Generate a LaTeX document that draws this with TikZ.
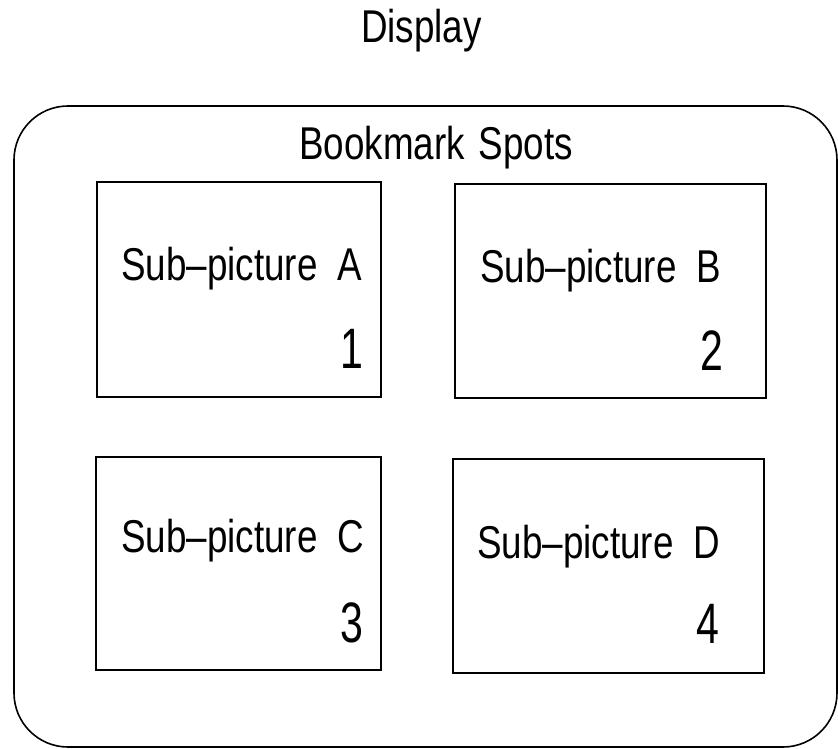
\documentclass[tikz,border=0pt]{standalone}
\usepackage{fontspec}
\setmainfont[FakeStretch=0.8]{Liberation Sans}
\newfontfamily\digitfont[FakeStretch=0.72]{Liberation Sans}
\newcommand{\labelgap}{\hspace{20pt}}
\begin{document}
\begin{tikzpicture}[x=1pt,y=-1pt,
  frame/.style={draw, line width=1.6pt, rounded corners=54pt, inner sep=0pt},
  panel/.style={draw, line width=1.5pt, inner sep=0pt},
  caption/.style={anchor=base west, inner sep=0pt, font=\fontsize{46}{50}\selectfont},
  number/.style={anchor=base east, inner sep=0pt, font=\digitfont\fontsize{57}{60}\selectfont}]
\useasboundingbox (0,0) rectangle (838,749);

% title above the display frame
\node[caption] (title) at (361,43) {Display};

% the display frame and its heading
\node[frame, minimum width=823pt, minimum height=641pt] (display) at (425.5,426.5) {};
\node[caption] (heading) at (299,160) {Bookmark\hspace{14pt}Spots};

% the four bookmark spots
\node[panel, minimum width=284pt, minimum height=215pt] (A) at (239,289.5) {};
\node[panel, minimum width=311pt, minimum height=214pt] (B) at (610.5,291) {};
\node[panel, minimum width=285pt, minimum height=213pt] (C) at (238.5,563.5) {};
\node[panel, minimum width=311pt, minimum height=214pt] (D) at (608.5,566) {};

% captions
\node[caption] (capA) at (121,280) {Sub--picture\labelgap A};
\node[caption] (capB) at (480,282) {Sub--picture\labelgap B};
\node[caption] (capC) at (121,552) {Sub--picture\labelgap C};
\node[caption] (capD) at (477,558) {Sub--picture\labelgap D};

% spot numbers
\node[number] (numA) at (364,368) {1};
\node[number] (numB) at (724,370) {2};
\node[number] (numC) at (364,642) {3};
\node[number] (numD) at (720,643) {4};
\end{tikzpicture}
\end{document}
